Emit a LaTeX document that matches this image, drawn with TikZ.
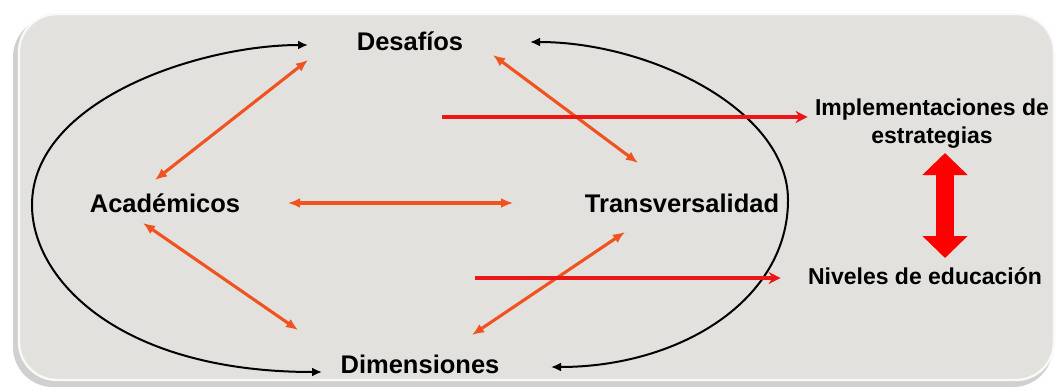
\documentclass[tikz,border=0pt]{standalone}
\usepackage{fontspec}
\setmainfont{Liberation Sans}
\usepackage{tikz}
\usetikzlibrary{arrows.meta}

\definecolor{panelgray}{RGB}{227,225,221}
\definecolor{linkorange}{RGB}{240,82,32}
\definecolor{leadred}{RGB}{236,22,22}

\tikzset{
  term/.style={font=\fontsize{12.75}{15}\selectfont\bfseries, inner sep=0pt, anchor=base},
  outcome/.style={font=\fontsize{11.5}{14}\selectfont\bfseries, inner sep=0pt, align=center},
  orangelink/.style={{Latex[length=6pt,width=5pt]}-{Latex[length=6pt,width=5pt]}, line width=1.55pt, linkorange},
  blackarc/.style={{Latex[length=5pt,width=4.5pt]}-{Latex[length=5pt,width=4.5pt]}, line width=1pt, black},
  redlead/.style={-{Stealth[length=6pt,width=6pt]}, line width=1.6pt, leadred},
  bigarrow/.style={{Triangle[length=11pt,width=22pt]}-{Triangle[length=11pt,width=22pt]}, line width=9pt, red},
}

\begin{document}
\begin{tikzpicture}[x=0.5pt, y=-0.5pt]
        \useasboundingbox[fill=white] (0,0) rectangle (1058,391);

        % panel
        \fill[black!30, opacity=0.6, rounded corners=20pt] (13,17) rectangle (1053,387);
        \fill[panelgray, rounded corners=20pt] (18,13) rectangle (1055,381);
        \draw[white, line width=1.2pt, opacity=0.8, rounded corners=19pt] (19,14) rectangle (1054,380);

        \node[term] (desafios) at (410,50) {Desafíos};
        \node[term] (academicos) at (165,212) {Académicos};
        \node[term] (transversalidad) at (682,212) {Transversalidad};
        \node[term] (dimensiones) at (420,373) {Dimensiones};

        \node[outcome] (implementaciones) at (932,124) {Implementaciones de\\estrategias};
        \node[outcome, anchor=base] (niveles) at (925,284) {Niveles de educación};

        % ends of the links
        \coordinate (des-a) at (308,60);
        \coordinate (des-t) at (493,55);
        \coordinate (aca-d) at (155,180);
        \coordinate (aca-t) at (288,203);
        \coordinate (aca-m) at (143,223);
        \coordinate (tra-d) at (638,163);
        \coordinate (tra-a) at (513,203);
        \coordinate (tra-m) at (625,232);
        \coordinate (dim-a) at (298,330);
        \coordinate (dim-t) at (472,335);

        \draw[orangelink] (des-a) -- (aca-d);
        \draw[orangelink] (des-t) -- (tra-d);
        \draw[orangelink] (aca-t) -- (tra-a);
        \draw[orangelink] (aca-m) -- (dim-a);
        \draw[orangelink] (tra-m) -- (dim-t);

        % the cycle round the four terms
        \coordinate (des-w) at (308,45);
        \coordinate (des-e) at (530,42);
        \coordinate (dim-w) at (322,372);
        \coordinate (dim-e) at (551,367);
        \draw[blackarc] (des-w) .. controls (200,45) and (32,100) .. (32,205) .. controls (32,280) and (120,372) .. (dim-w);
        \draw[blackarc] (des-e) .. controls (650,42) and (788,110) .. (788,200) .. controls (788,300) and (680,367) .. (dim-e);

        \coordinate (lead-1) at (442,117);
        \coordinate (lead-2) at (475,278);
        \draw[redlead, shorten >=3.5pt] (lead-1) -- (implementaciones.west |- lead-1);
        \draw[redlead, shorten >=13.5pt] (lead-2) -- (niveles.west |- lead-2);

        \coordinate (big-top) at (945,153);
        \coordinate (big-bot) at (945,258);
        \draw[bigarrow] (big-top) -- (big-bot);

    \end{tikzpicture}
\end{document}
